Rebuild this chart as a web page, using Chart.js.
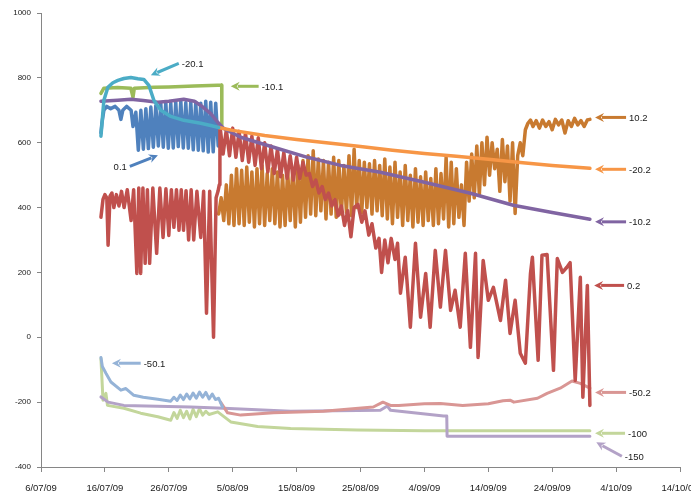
<!DOCTYPE html>
<html>
<head>
<meta charset="utf-8">
<script src="https://cdn.jsdelivr.net/npm/chart.js@4.4.1/dist/chart.umd.min.js"></script>
<style>
html,body{margin:0;padding:0;background:#fff;}
#wrap{width:691px;height:494px;position:relative;}
</style>
</head>
<body>
<div id="wrap"><canvas id="c"></canvas></div>
<script>
// x values are days after 6/07/09
const xTickLabels = ["6/07/09","16/07/09","26/07/09","5/08/09","15/08/09","25/08/09","4/09/09","14/09/09","24/09/09","4/10/09","14/10/09"];
const yTicks = [-400,-200,0,200,400,600,800,1000];

const s01 = [[9.38,630],[9.53,660],[9.84,700],[10.3,712],[10.9,705],[11.6,712],[12.2,700],[12.5,672],[12.8,700],[13.4,712],[14.1,700],[14.4,650],
 [14.84,694],[15.23,577],[15.63,700],[16.02,580],[16.41,705],[16.80,582],[17.19,710],[17.58,586],[17.97,715],[18.36,590],[18.75,720],[19.14,586],
 [19.53,725],[19.92,583],[20.31,722],[20.70,584],[21.09,725],[21.48,588],[21.88,728],[22.27,584],[22.66,724],[23.05,583],[23.44,726],[23.83,578],
 [24.22,725],[24.61,577],[25.00,722],[25.39,575],[25.78,728],[26.17,571],[26.56,725],[26.95,572],[27.34,722],[27.73,590]];

const s02 = [[9.38,370],[9.7,425],[10.0,440],[10.3,430],[10.5,284],[10.8,435],[11.1,445],[11.4,400],[11.8,440],[12.2,405],[12.6,450],[13.0,400],
 [13.5,455],[14.1,360],[14.5,455],[15.0,197],[15.3,460],[15.6,197],[15.95,460],[16.3,228],[16.65,455],[17.0,228],[17.5,460],[18.1,259],[18.6,460],
 [19.1,308],[19.55,458],[20.0,314],[20.4,455],[20.8,339],[21.2,455],[21.6,330],[21.95,455],[22.3,330],[22.7,452],[23.1,300],[23.5,455],[23.9,300],
 [24.4,450],[25.0,308],[25.45,450],[25.9,74],[26.4,450],[27.0,0],[27.4,430],[27.7,450],[27.9,470],[28.0,654],
 [28.5,565],[29.0,640],[29.5,560],[30.0,645],[30.5,555],[31.0,635],[31.5,545],[32.0,630],[32.5,540],[33.0,620],[33.5,530],[34.0,615],[34.5,520],
 [35.0,600],[35.5,510],[36.0,590],[36.5,505],[37.0,580],[37.5,495],[38.0,570],[38.5,490],[39.0,560],[39.5,485],[40.0,555],[40.5,490],[41.0,540],
 [41.5,500],[42.0,505],[42.5,465],[43.0,485],[43.5,445],[44.0,465],[44.5,425],[45.0,445],[45.5,405],[46.0,425],[46.5,375],[47.0,405],[47.5,345],
 [48.0,390],[48.5,310],[49.0,400],[49.6,410],[50.2,355],[50.7,390],[51.3,315],[51.8,350],[52.4,275],[52.9,305],[53.3,200],[53.8,300],[54.3,230],
 [54.8,305],[55.4,240],[55.8,290],[56.25,136],[57.0,247],[57.8,31],[58.6,290],[59.4,62],[60.2,197],[60.9,31],[61.7,268],[62.5,93],[63.3,268],
 [64.1,83],[64.8,145],[65.6,31],[66.4,259],[67.2,-31],[68.0,259],[68.4,-62],[69.2,237],[70.0,114],[70.8,154],[71.9,52],[72.7,176],[73.4,12],
 [74.2,114],[75.0,-49],[75.8,-80],[76.6,197],[76.9,247],[77.8,-71],[78.4,253],[79.2,255],[80.2,-102],[80.8,243],[81.6,200],[82.3,216],[82.8,230],
 [83.6,-133],[84.4,185],[84.8,-185],[85.5,160],[85.9,-210]];

const s102 = [[27.8,380],[28.2,430],[28.6,360],[29.0,470],[29.4,350],[29.8,500],[30.2,345],[30.6,520],[31.0,350],[31.4,515],[31.8,345],[32.2,525],
 [32.6,355],[33.0,510],[33.4,340],[33.8,520],[34.2,350],[34.6,530],[35.0,345],[35.4,505],[35.8,360],[36.2,520],[36.6,350],[37.0,510],[37.4,340],
 [37.8,500],[38.2,345],[38.6,515],[39.0,360],[39.4,520],[39.8,340],[40.2,530],[40.6,355],[41.0,545],[41.4,370],[41.8,560],[42.2,380],[42.6,575],
 [43.0,375],[43.4,550],[43.8,390],[44.2,545],[44.6,365],[45.0,540],[45.4,380],[45.8,555],[46.2,370],[46.6,545],[47.0,380],[47.4,530],[47.8,385],
 [48.2,560],[48.6,375],[49.0,580],[49.4,400],[49.8,545],[50.2,385],[50.6,540],[51.0,400],[51.4,535],[51.8,380],[52.2,545],[52.6,390],[53.0,530],
 [53.4,375],[53.8,550],[54.2,365],[54.6,525],[55.0,350],[55.4,540],[55.8,370],[56.2,510],[56.6,345],[57.0,530],[57.4,360],[57.8,500],[58.2,340],
 [58.6,520],[59.0,355],[59.4,495],[59.8,345],[60.2,510],[60.6,360],[61.0,490],[61.4,345],[61.8,520],[62.2,350],[62.6,505],[63.0,365],[63.4,555],
 [63.8,340],[64.2,540],[64.6,350],[65.0,520],[65.4,370],[65.8,470],[66.2,345],[66.6,540],[67.0,420],[67.4,565],[67.8,430],[68.2,590],[68.6,440],
 [69.0,600],[69.4,470],[69.8,617],[70.2,500],[70.6,600],[71.0,520],[71.4,580],[71.8,450],[72.2,610],[72.6,480],[73.0,590],[73.4,420],[73.8,600],
 [74.2,382],[74.6,560],[75.0,600],[75.4,560],[75.8,640],[76.2,660],[76.6,670],[77.0,650],[77.5,668],[78.0,645],[78.5,670],[79.0,650],[79.5,665],
 [80.0,640],[80.5,672],[81.0,655],[81.5,670],[82.0,630],[82.5,668],[83.0,650],[83.5,675],[84.0,655],[84.5,668],[85.0,650],[85.5,670],[85.9,672]];

const sM201 = [[9.38,620],[9.84,731],[10.47,771],[11.25,785],[12.03,792],[12.97,798],[14.06,801],[15.16,797],[16.09,795],[16.88,777],[17.66,731],
 [18.75,700],[20.31,681],[22.34,669],[25.0,660],[26.56,653],[27.81,647]];
const sM202 = [[27.81,647],[30,638],[35,622],[40,610],[45,599],[50,588],[55,577],[60,567],[65,558],[70,549],[75,539],[80,530],[85.9,521]];
const sM102 = [[9.38,728],[12,731],[14.06,734],[16,730],[18.28,725],[20,728],[22.34,734],[24,728],[25.0,715],[26.56,690],[27.66,663],[28.6,644],
 [31.25,617],[36.4,586],[41.7,555],[46.9,530],[53.1,509],[60,478],[67.2,444],[73.9,407],[80,385],[85.9,364]];
const sM101 = [[9.38,752],[9.84,768],[12,770],[14.06,768],[14.4,740],[14.6,768],[17.7,771],[20,772],[24,775],[27.66,777],[28.28,777],[28.3,654]];
const sM501 = [[9.38,-62],[9.6,-90],[10.16,-111],[10.94,-138],[12.5,-163],[13.28,-158],[14.53,-179],[16,-185],[18.28,-191],[20.31,-197],[20.8,-185],
 [21.3,-195],[21.8,-178],[22.3,-192],[22.8,-175],[23.3,-190],[23.8,-172],[24.3,-188],[24.8,-169],[25.3,-185],[25.8,-170],[26.3,-190],[26.8,-175],
 [27.3,-192],[27.8,-188],[28.4,-215]];
const sM502 = [[28.1,-200],[29.2,-233],[31.25,-240],[36.4,-233],[44.2,-228],[52.0,-215],[53.5,-200],[54.7,-210],[56,-210],[60,-205],[62.5,-204],
 [66,-210],[70,-205],[72.3,-196],[73.4,-194],[74,-200],[77.7,-188],[79.2,-173],[81.25,-157],[83.1,-135],[84.4,-142],[85.9,-157]];
const sM100 = [[9.38,-65],[9.7,-194],[10.16,-173],[10.4,-210],[12.97,-219],[15.6,-234],[18.28,-245],[20.31,-256],[20.8,-232],[21.3,-250],[21.8,-225],
 [22.3,-248],[22.8,-228],[23.3,-252],[23.8,-222],[24.3,-245],[24.8,-220],[25.3,-240],[25.8,-228],[26.3,-238],[27.66,-230],[29.7,-261],[33.9,-275],
 [39.06,-281],[49.5,-286],[60,-288],[70,-288],[85.9,-288]];
const sM150 = [[9.38,-184],[10.5,-200],[12.97,-210],[23.4,-215],[28.6,-219],[39.06,-228],[53.1,-225],[54.2,-212],[54.7,-225],[63.0,-243],[63.5,-243],
 [63.55,-305],[85.9,-305]];

// arrow annotations: label, colour, tail [day,value], head [day,value]
const arrowTexts = ["-20.1","-10.1","0.1","-50.1","10.2","-20.2","-10.2","0.2","-50.2","-100","-150"];
const arrowColors = ["#4BACC6","#9BBB59","#4F81BD","#95B3D7","#C87A30","#F79646","#8064A2","#C0504D","#D99694","#C3D69B","#B3A2C7"];
const arrowTails = [[21.56,845],[34.06,774],[13.9,527],[15.6,-80],[91.56,678],[91.56,518],[91.56,356],[91.25,160],[91.56,-170],[91.4,-296],[90.9,-367]];
const arrowHeads = [[17.19,808],[29.69,774],[18.3,561],[11.1,-80],[86.7,678],[86.7,518],[86.7,356],[86.56,160],[86.7,-170],[86.7,-296],[86.9,-324]];

const toXY = a => a.map(p => ({x:p[0], y:p[1]}));
function ds(label, data, color, w, order){
  return {label, data: toXY(data), borderColor: color, backgroundColor: color, borderWidth: w,
    pointRadius: 0, tension: 0, fill: false, order, borderJoinStyle:'round', borderCapStyle:'round'};
}

const arrowPlugin = {
  id: 'arrows',
  afterDatasetsDraw(chart){
    const ctx = chart.ctx, xs = chart.scales.x, ys = chart.scales.y;
    ctx.save();
    arrowTexts.forEach((t, i) => {
      const tx = xs.getPixelForValue(arrowTails[i][0]), ty = ys.getPixelForValue(arrowTails[i][1]);
      const hx = xs.getPixelForValue(arrowHeads[i][0]), hy = ys.getPixelForValue(arrowHeads[i][1]);
      const ang = Math.atan2(hy - ty, hx - tx);
      const L = 9, W = 4.5;
      const bx = hx - Math.cos(ang) * (L - 2), by = hy - Math.sin(ang) * (L - 2);
      ctx.strokeStyle = arrowColors[i];
      ctx.fillStyle = arrowColors[i];
      ctx.lineWidth = 3;
      ctx.lineCap = 'butt';
      ctx.beginPath(); ctx.moveTo(tx, ty); ctx.lineTo(bx, by); ctx.stroke();
      const cx = hx - Math.cos(ang) * L, cy = hy - Math.sin(ang) * L;
      ctx.beginPath();
      ctx.moveTo(hx, hy);
      ctx.lineTo(cx + Math.sin(ang) * W, cy - Math.cos(ang) * W);
      ctx.lineTo(hx - Math.cos(ang) * (L - 3), hy - Math.sin(ang) * (L - 3));
      ctx.lineTo(cx - Math.sin(ang) * W, cy + Math.cos(ang) * W);
      ctx.closePath(); ctx.fill();
      ctx.fillStyle = '#1a1a1a';
      ctx.font = '9.5px "Liberation Sans", Arial, sans-serif';
      ctx.textBaseline = 'middle';
      if (tx < hx) { ctx.textAlign = 'right'; ctx.fillText(t, tx - 3, ty + 1); }
      else { ctx.textAlign = 'left'; ctx.fillText(t, tx + 3, ty + 1); }
    });
    ctx.restore();
  }
};

new Chart(document.getElementById('c'), {
  type: 'line',
  data: {
    datasets: [
      ds('-20.1', sM201, '#4BACC6', 3.5, 1),
      ds('-20.2', sM202, '#F79646', 3.5, 2),
      ds('-10.2', sM102, '#8064A2', 3.5, 3),
      ds('-10.1', sM101, '#9BBB59', 3.5, 4),
      ds('0.2', s02, '#C0504D', 3.5, 5),
      ds('10.2', s102, '#C87A30', 3.5, 6),
      ds('0.1', s01, '#4F81BD', 3.5, 7),
      ds('-50.1', sM501, '#95B3D7', 3, 8),
      ds('-50.2', sM502, '#D99694', 3, 9),
      ds('-150', sM150, '#B3A2C7', 3, 10),
      ds('-100', sM100, '#C3D69B', 3, 11)
    ]
  },
  options: {
    responsive: true,
    maintainAspectRatio: false,
    animation: false,
    layout: { padding: { left: 0, top: 13, right: 11, bottom: 0 } },
    plugins: { legend: { display: false }, tooltip: { enabled: false }, title: { display: false } },
    scales: {
      x: {
        type: 'linear', min: 0, max: 100,
        afterFit(s){ s.height = 27; s.paddingLeft = 0; s.paddingRight = 0; },
        afterBuildTicks(s){ s.ticks = xTickLabels.map((l, i) => ({value: i * 10})); },
        ticks: { callback: (v, i) => xTickLabels[i], color: '#1a1a1a', padding: 11, maxRotation: 0, autoSkip: false,
          font: { family: '"Liberation Sans", Arial, sans-serif', size: 9.5 } },
        grid: { display: true, drawOnChartArea: false, drawTicks: true, tickLength: 5, color: '#868686' },
        border: { display: true, color: '#868686', width: 1 }
      },
      y: {
        type: 'linear', min: -400, max: 1000,
        afterFit(s){ s.width = 41; s.paddingTop = 0; s.paddingBottom = 0; },
        afterBuildTicks(s){ s.ticks = yTicks.map(v => ({value: v})); },
        ticks: { callback: v => String(v), color: '#1a1a1a', padding: 6, font: { family: '"Liberation Sans", Arial, sans-serif', size: 8 } },
        grid: { display: true, drawOnChartArea: false, drawTicks: true, tickLength: 4, color: '#868686' },
        border: { display: true, color: '#868686', width: 1 }
      }
    }
  },
  plugins: [arrowPlugin]
});
</script>
</body>
</html>
